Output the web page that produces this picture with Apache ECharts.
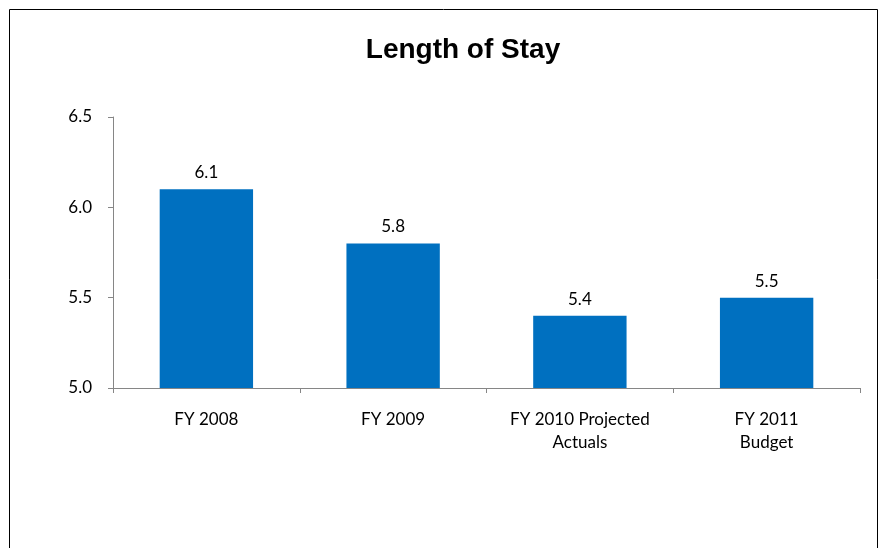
<!DOCTYPE html>
<html>
<head>
<meta charset="utf-8">
<script src="https://cdn.jsdelivr.net/npm/echarts@6/dist/echarts.min.js"></script>
<style>
  html, body { margin: 0; padding: 0; background: #fff; overflow: hidden; }
  #chart { width: 886px; height: 548px; }
</style>
</head>
<body>
<div id="chart"></div>
<script>
// data
const categories = ['FY 2008', 'FY 2009', 'FY 2010 Projected\nActuals', 'FY 2011\nBudget']
const stayValues = [6.1, 5.8, 5.4, 5.5]
const yTicks = { min: 5.0, max: 6.5, step: 0.5 }

const labelFont = 'Lato, "Open Sans", sans-serif'
const axisGray = '#868686'

const chart = echarts.init(document.getElementById('chart'))

const option = {
  animation: false,
  title: {
    text: 'Length of Stay',
    left: 458,
    top: 31,
    textAlign: 'center',
    textStyle: {
      fontFamily: '"Liberation Sans", Arial, sans-serif',
      fontWeight: 'bold',
      fontSize: 28,
      color: '#000'
    }
  },
  // outer chart frame (bottom edge runs off the picture)
  graphic: [{
    type: 'rect',
    shape: { x: 9.5, y: 9.5, width: 868, height: 620 },
    style: { fill: 'none', stroke: '#000', lineWidth: 1 },
    silent: true
  }],
  grid: {
    left: 113,
    right: 26,
    top: 117,
    bottom: 160,
    containLabel: false
  },
  xAxis: {
    type: 'category',
    data: categories,
    boundaryGap: true,
    axisLine: { lineStyle: { color: axisGray, width: 1 } },
    axisTick: { show: true, alignWithLabel: false, length: 5, lineStyle: { color: axisGray } },
    axisLabel: {
      interval: 0,
      margin: 20,
      fontFamily: labelFont,
      fontSize: 17,
      lineHeight: 23,
      color: '#000'
    }
  },
  yAxis: {
    type: 'value',
    min: yTicks.min,
    max: yTicks.max,
    interval: yTicks.step,
    splitLine: { show: false },
    axisLine: { show: true, lineStyle: { color: axisGray, width: 1 } },
    axisTick: { show: true, length: 5, lineStyle: { color: axisGray } },
    axisLabel: {
      margin: 21,
      fontFamily: labelFont,
      fontSize: 17,
      color: '#000',
      formatter: v => v.toFixed(1)
    }
  },
  series: [{
    type: 'bar',
    data: stayValues,
    barWidth: '50%',
    itemStyle: { color: '#0070C0' },
    label: {
      show: true,
      position: 'top',
      distance: 8,
      fontFamily: labelFont,
      fontSize: 17,
      color: '#000',
      formatter: p => p.value.toFixed(1)
    }
  }]
}

chart.setOption(option)
</script>
</body>
</html>
